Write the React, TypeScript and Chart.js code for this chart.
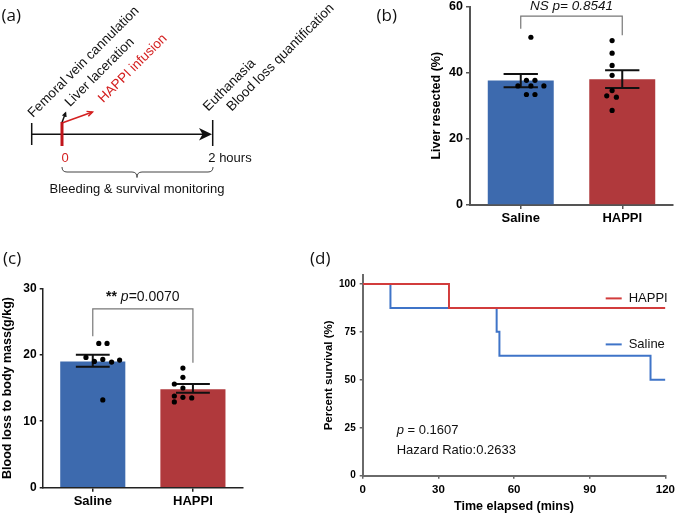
import React, { useEffect, useRef } from "react";
import { Chart, registerables } from "chart.js";
Chart.register(...registerables);

const FONT = "'Liberation Sans', Arial, Helvetica, sans-serif";
const LABEL_FONT = "'Open Sans', 'Noto Sans', sans-serif";

// ---------- data ----------
const groups = ["Saline", "HAPPI"];

// (b) Liver resected (%)
const liverMean = [37.6, 38.0];
const liverErrHigh = [39.6, 40.7];
const liverErrLow = [35.6, 35.4];
const liverSaline = [50.7, 37.7, 37.7, 36.0, 36.0, 36.0, 33.4, 33.4];
const liverSalineJitter = [0, -0.055, 0.05, -0.16, 0, 0.16, -0.055, 0.05];
const liverHappi = [49.7, 45.9, 42.2, 39.2, 34.6, 33.0, 32.6, 28.6];
const liverHappiJitter = [0, 0, 0, 0, 0, -0.066, 0.053, 0];
const liverTicks = [0, 20, 40, 60];
const liverBracket = { top: 57.1, legs: [53.3, 51.3], label: 60.2, text: "NS p= 0.8541" };

// (c) Blood loss to body mass (g/kg)
const bloodMean = [19.0, 14.8];
const bloodErrHigh = [20.0, 15.6];
const bloodErrLow = [18.2, 14.3];
const bloodSaline = [21.7, 21.7, 19.6, 19.0, 19.3, 18.9, 19.2, 13.2];
const bloodSalineJitter = [-0.05, 0.053, -0.21, -0.105, 0, 0.11, 0.21, 0];
const bloodHappi = [18.0, 16.6, 15.6, 15.0, 13.8, 13.6, 13.5, 12.9];
const bloodHappiJitter = [0, 0, -0.107, 0, -0.107, 0, 0.11, -0.107];
const bloodTicks = [0, 10, 20, 30];
const bloodBracket = { top: 26.9, legs: [22.8, 18.8], label: 28.6 };

// (d) Kaplan-Meier survival
const happiTimes = [0, 34.2, 120];
const happiSurvival = [100, 87.5, 87.5];
const salineTimes = [0, 11, 53.1, 54.2, 114.1, 120];
const salineSurvival = [100, 87.5, 75, 62.5, 50, 50];
const survivalYTicks = [0, 25, 50, 75, 100];
const timeTicks = [0, 30, 60, 90, 120];

const BLUE = "#3D6AAE";
const RED = "#B0393C";
const LINE_RED = "#D23C3C";
const LINE_BLUE = "#3F74C8";

// ---------- plugins ----------
function errorBarPlugin(hi: number[], lo: number[]) {
  return {
    id: "errbars",
    afterDatasetDraw(chart: any, args: any) {
      if (args.index !== 0) return;
      const { ctx } = chart;
      const x = chart.scales.x;
      const y = chart.scales.y;
      const meta = chart.getDatasetMeta(0);
      ctx.save();
      ctx.strokeStyle = "#111";
      ctx.lineWidth = 2;
      hi.forEach((h, i) => {
        const px = x.getPixelForValue(i);
        const half = meta.data[i].width * 0.26;
        const yh = y.getPixelForValue(h);
        const yl = y.getPixelForValue(lo[i]);
        ctx.beginPath();
        ctx.moveTo(px, yh);
        ctx.lineTo(px, yl);
        ctx.moveTo(px - half, yh);
        ctx.lineTo(px + half, yh);
        ctx.moveTo(px - half, yl);
        ctx.lineTo(px + half, yl);
        ctx.stroke();
      });
      ctx.restore();
    },
  };
}

function bracketPlugin(br: { top: number; legs: number[]; label: number }, drawText: (ctx: any, cx: number, cy: number) => void) {
  return {
    id: "bracket",
    afterDraw(chart: any) {
      const { ctx } = chart;
      const x = chart.scales.x;
      const y = chart.scales.y;
      const x0 = x.getPixelForValue(0);
      const x1 = x.getPixelForValue(1);
      const yt = y.getPixelForValue(br.top);
      ctx.save();
      ctx.strokeStyle = "#777";
      ctx.lineWidth = 1.2;
      ctx.beginPath();
      ctx.moveTo(x0, y.getPixelForValue(br.legs[0]));
      ctx.lineTo(x0, yt);
      ctx.lineTo(x1, yt);
      ctx.lineTo(x1, y.getPixelForValue(br.legs[1]));
      ctx.stroke();
      drawText(ctx, (x0 + x1) / 2, y.getPixelForValue(br.label));
      ctx.restore();
    },
  };
}

function barChartConfig(p: any) {
  const dots = (vals: number[], jit: number[], g: number) =>
    vals.map((v, i) => ({ x: g + jit[i], y: v }));
  return {
    type: "bar",
    data: {
      labels: groups,
      datasets: [
        {
          type: "bar",
          data: p.mean,
          backgroundColor: [BLUE, RED],
          borderWidth: 0,
          barPercentage: 0.65,
          categoryPercentage: 1,
          grouped: false,
          order: 2,
        },
        {
          type: "scatter",
          data: dots(p.saline, p.salineJit, 0),
          xAxisID: "xd",
          pointRadius: 2.6,
          pointBackgroundColor: "#000",
          pointBorderWidth: 0,
          order: 0,
        },
        {
          type: "scatter",
          data: dots(p.happi, p.happiJit, 1),
          xAxisID: "xd",
          pointRadius: 2.6,
          pointBackgroundColor: "#000",
          pointBorderWidth: 0,
          order: 0,
        },
      ],
    },
    options: {
      responsive: false,
      animation: false,
      events: [],
      layout: { padding: p.padding },
      plugins: { legend: { display: false }, tooltip: { enabled: false } },
      scales: {
        x: {
          type: "category",
          grid: { offset: false, drawOnChartArea: false, tickLength: p.xTick, color: p.axisColor, lineWidth: 1.5 },
          border: { color: p.axisColor, width: p.axisWidth },
          ticks: { font: { family: FONT, size: 13, weight: "bold" }, color: "#000", padding: p.xPad },
          afterFit: (s: any) => { s.height = p.xHeight; },
        },
        xd: { type: "linear", min: -0.5, max: 1.5, display: false },
        y: {
          type: "linear",
          min: p.yTicks[0],
          max: p.yTicks[p.yTicks.length - 1],
          afterBuildTicks: (s: any) => { s.ticks = p.yTicks.map((v: number) => ({ value: v })); },
          grid: { drawOnChartArea: false, tickLength: p.yTick, color: p.axisColor, lineWidth: 1.5 },
          border: { color: p.axisColor, width: p.axisWidth },
          ticks: { font: { family: FONT, size: p.yTickSize, weight: "bold" }, color: "#000", padding: p.yPad },
          title: {
            display: true,
            text: p.title,
            font: { family: FONT, size: 12.5, weight: "bold" },
            color: "#000",
            padding: p.titlePad,
          },
          afterFit: (s: any) => { s.width = p.yWidth; },
        },
      },
    },
    plugins: [errorBarPlugin(p.hi, p.lo), bracketPlugin(p.bracket, p.drawText)],
  };
}

function configB() {
  return barChartConfig({
    mean: liverMean, hi: liverErrHigh, lo: liverErrLow,
    saline: liverSaline, salineJit: liverSalineJitter, happi: liverHappi, happiJit: liverHappiJitter,
    yTicks: liverTicks, title: "Liver resected (%)",
    padding: { left: 85.5, right: 6, top: 10, bottom: 0 },
    xHeight: 25, xTick: 4, xPad: 2, yWidth: 44.5, yTick: 4, yPad: 3, yTickSize: 12.5,
    titlePad: { top: 4, bottom: 4 }, axisColor: "#555", axisWidth: 2,
    bracket: liverBracket,
    drawText: (ctx: any, cx: number, cy: number) => {
      ctx.font = `italic 13.5px ${FONT}`;
      ctx.fillStyle = "#111";
      ctx.textAlign = "center";
      ctx.textBaseline = "middle";
      ctx.fillText(liverBracket.text, cx, cy);
    },
  });
}

function configC() {
  return barChartConfig({
    mean: bloodMean, hi: bloodErrHigh, lo: bloodErrLow,
    saline: bloodSaline, salineJit: bloodSalineJitter, happi: bloodHappi, happiJit: bloodHappiJitter,
    yTicks: bloodTicks, title: "Blood loss to body mass(g/kg)",
    padding: { left: 0, right: 7, top: 12.3, bottom: 0 },
    xHeight: 27.3, xTick: 4, xPad: 2, yWidth: 42.7, yTick: 3, yPad: 3, yTickSize: 12,
    titlePad: { top: 0, bottom: 0 }, axisColor: "#222", axisWidth: 1.5,
    bracket: bloodBracket,
    drawText: (ctx: any, cx: number, cy: number) => {
      const parts = [
        { t: "** ", f: `bold 14px ${FONT}` },
        { t: "p", f: `italic 14px ${FONT}` },
        { t: "=0.0070", f: `14px ${FONT}` },
      ];
      let total = 0;
      parts.forEach((pt) => { ctx.font = pt.f; total += ctx.measureText(pt.t).width; });
      let xx = cx - total / 2;
      ctx.fillStyle = "#111";
      ctx.textAlign = "left";
      ctx.textBaseline = "middle";
      parts.forEach((pt) => {
        ctx.font = pt.f;
        ctx.fillText(pt.t, xx, cy);
        xx += ctx.measureText(pt.t).width;
      });
    },
  });
}

const kmAnnotations = {
  id: "kmAnno",
  afterDraw(chart: any) {
    const { ctx, chartArea } = chart;
    const ca = chartArea;
    ctx.save();
    // legend
    const items = [
      { label: "HAPPI", color: LINE_RED, y: ca.top + 23.4 },
      { label: "Saline", color: LINE_BLUE, y: ca.top + 69.4 },
    ];
    items.forEach((it) => {
      ctx.strokeStyle = it.color;
      ctx.lineWidth = 2;
      ctx.beginPath();
      ctx.moveTo(ca.left + 243, it.y);
      ctx.lineTo(ca.left + 259, it.y);
      ctx.stroke();
      ctx.font = `13px ${FONT}`;
      ctx.fillStyle = "#111";
      ctx.textAlign = "left";
      ctx.textBaseline = "middle";
      ctx.fillText(it.label, ca.left + 266, it.y);
    });
    // stats text
    const tx = ca.left + 34;
    ctx.font = `italic 13px ${FONT}`;
    ctx.fillText("p", tx, ca.top + 155);
    const pw = ctx.measureText("p").width;
    ctx.font = `13px ${FONT}`;
    ctx.fillText(" = 0.1607", tx + pw, ca.top + 155);
    ctx.fillText("Hazard Ratio:0.2633", tx, ca.top + 175.7);
    ctx.restore();
  },
};

function configD() {
  const pts = (xs: number[], ys: number[]) => xs.map((x, i) => ({ x, y: ys[i] }));
  return {
    type: "line",
    data: {
      datasets: [
        { label: "HAPPI", data: pts(happiTimes, happiSurvival), borderColor: LINE_RED, borderWidth: 2, stepped: true, pointRadius: 0, fill: false },
        { label: "Saline", data: pts(salineTimes, salineSurvival), borderColor: LINE_BLUE, borderWidth: 2, stepped: true, pointRadius: 0, fill: false },
      ],
    },
    options: {
      responsive: false,
      animation: false,
      events: [],
      layout: { padding: { left: 18, right: 10.7, top: 8.3, bottom: 0 } },
      plugins: { legend: { display: false }, tooltip: { enabled: false } },
      scales: {
        x: {
          type: "linear",
          min: 0,
          max: 120,
          afterBuildTicks: (s: any) => { s.ticks = timeTicks.map((v) => ({ value: v })); },
          grid: { drawOnChartArea: false, tickLength: 3, color: "#666", lineWidth: 1.5 },
          border: { color: "#6a6a6a", width: 2 },
          ticks: { font: { family: FONT, size: 11.5, weight: "bold" }, color: "#000", padding: 4, maxRotation: 0 },
          title: { display: true, text: "Time elapsed (mins)", font: { family: FONT, size: 12.5, weight: "bold" }, color: "#000", padding: { top: 0, bottom: 1 } },
          afterFit: (s: any) => { s.height = 39.3; },
        },
        y: {
          type: "linear",
          min: 0,
          max: 104.65,
          afterBuildTicks: (s: any) => { s.ticks = survivalYTicks.map((v) => ({ value: v })); },
          grid: { drawOnChartArea: false, tickLength: 3, color: "#666", lineWidth: 1.5 },
          border: { color: "#6a6a6a", width: 2 },
          ticks: { font: { family: FONT, size: 10, weight: "bold" }, color: "#000", padding: 4 },
          title: { display: true, text: "Percent survival (%)", font: { family: FONT, size: 11.5, weight: "bold" }, color: "#000", padding: { top: 4, bottom: 4 } },
          afterFit: (s: any) => { s.width = 44.7; },
        },
      },
    },
    plugins: [kmAnnotations],
  };
}

function ChartBox({ left, top, width, height, make }: any) {
  const ref = useRef<HTMLCanvasElement>(null);
  useEffect(() => {
    const chart = new Chart(ref.current as HTMLCanvasElement, make());
    return () => chart.destroy();
  }, []);
  return (
    <canvas
      ref={ref}
      width={width}
      height={height}
      style={{ position: "absolute", left, top, width, height }}
    />
  );
}

function Arrow({ x1, y1, x2, y2, color, head }: any) {
  const ang = Math.atan2(y2 - y1, x2 - x1);
  const a1 = ang + Math.PI - 0.45;
  const a2 = ang + Math.PI + 0.45;
  return (
    <g>
      <line x1={x1} y1={y1} x2={x2} y2={y2} stroke={color} strokeWidth={1.5} />
      <polyline
        points={`${x2 + head * Math.cos(a1)},${y2 + head * Math.sin(a1)} ${x2},${y2} ${x2 + head * Math.cos(a2)},${y2 + head * Math.sin(a2)}`}
        fill="none"
        stroke={color}
        strokeWidth={1.5}
      />
    </g>
  );
}

function Diagram() {
  const rot = (x: number, y: number) => `translate(${x},${y}) rotate(-45)`;
  return (
    <svg width={679} height={515} style={{ position: "absolute", left: 0, top: 0, pointerEvents: "none" }}>
      <g fontFamily={LABEL_FONT} fontSize={17} fill="#111">
        <text x={1.5} y={21}>(a)</text>
        <text x={376.5} y={21}>(b)</text>
        <text x={3} y={264}>(c)</text>
        <text x={310} y={264}>(d)</text>
      </g>
      <g fontFamily={FONT} fontSize={13.5} fill="#111">
        <text transform={rot(33, 118)}>Femoral vein cannulation</text>
        <text transform={rot(70, 107.3)}>Liver laceration</text>
        <text transform={rot(103.3, 103.3)} fill="#D42020">HAPPI infusion</text>
        <text transform={rot(208.3, 111.7)}>Euthanasia</text>
        <text transform={rot(231.7, 111.7)}>Blood loss quantification</text>
      </g>
      <g fontFamily={FONT} fontSize={13} fill="#111">
        <text x={65} y={162} textAnchor="middle" fill="#D42020">0</text>
        <text x={208.3} y={162}>2 hours</text>
        <text x={137} y={193} textAnchor="middle">Bleeding &amp; survival monitoring</text>
      </g>
      <line x1={31.7} y1={134.3} x2={204} y2={134.3} stroke="#111" strokeWidth={1.5} />
      <polygon points="212,134.3 199,128 202.5,134.3 199,140.6" fill="#111" />
      <line x1={31.7} y1={123} x2={31.7} y2={145} stroke="#111" strokeWidth={1.5} />
      <line x1={212.7} y1={120} x2={212.7} y2={146} stroke="#111" strokeWidth={1.5} />
      <Arrow x1={62} y1={122.5} x2={65.5} y2={113} color="#111" head={4} />
      <Arrow x1={62} y1={123} x2={92.5} y2={112} color="#D42020" head={6} />
      <line x1={62} y1={122} x2={62} y2={146} stroke="#C0151B" strokeWidth={3} />
      <path
        d="M62,167 Q62,172 67,172 L132,172 Q137,172 137,177.5 Q137,172 142,172 L208,172 Q213,172 213,167"
        fill="none"
        stroke="#444"
        strokeWidth={1}
      />
    </svg>
  );
}

export default function App() {
  return (
    <div style={{ position: "absolute", left: 0, top: 0, width: 679, height: 515, background: "#fff", overflow: "hidden" }}>
      <ChartBox left={340} top={-4} width={339} height={234} make={configB} />
      <ChartBox left={0} top={276} width={250} height={239} make={configC} />
      <ChartBox left={300} top={265} width={379} height={250} make={configD} />
      <Diagram />
    </div>
  );
}
